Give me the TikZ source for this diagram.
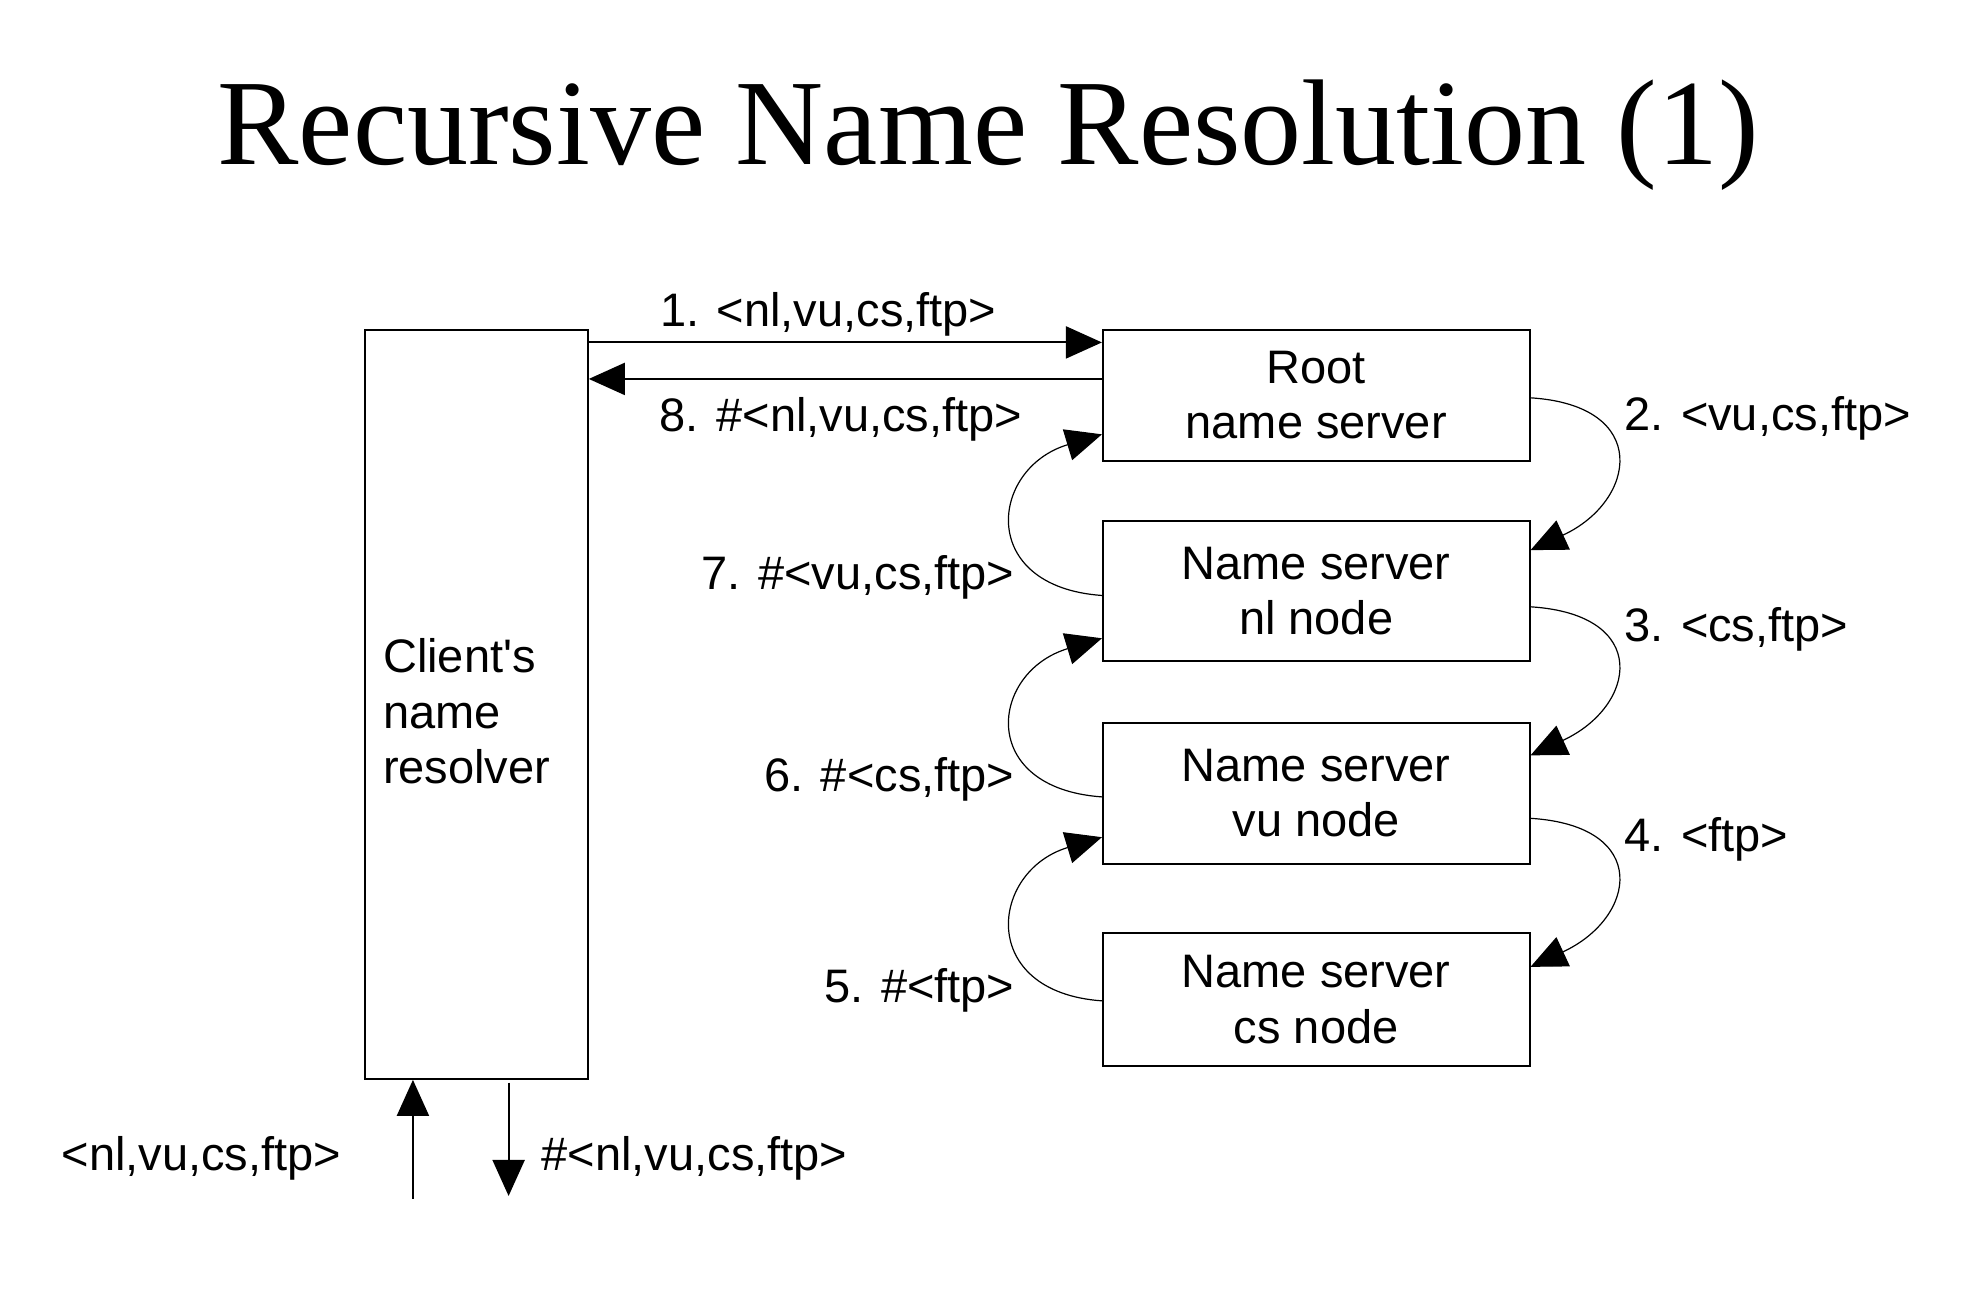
\documentclass[tikz,border=0pt]{standalone}
\usepackage{fontspec}
\setmainfont{Liberation Sans}
\newfontfamily\titlefont{Liberation Serif}
\usetikzlibrary{arrows.meta}
\begin{document}
\begin{tikzpicture}[x=0.6295pt,y=-0.6295pt,
  lbl/.style={inner sep=0pt, font=\fontsize{23.5}{27.7}\selectfont},
  box/.style={draw, line width=0.9pt, inner sep=0pt, align=center, font=\fontsize{23.5}{27.7}\selectfont},
  arr/.style={line width=1pt, -{Triangle[length=18pt,width=16pt]}},
  carr/.style={line width=0.6pt, -{Triangle[length=18pt,width=16pt]}}]
\useasboundingbox[fill=white] (0,0) rectangle (1568,1027);

\node[anchor=base, inner sep=0pt, font=\titlefont\fontsize{61}{70}\selectfont] (title) at (785,131) {Recursive Name Resolution (1)};

% boxes
\node[box, minimum width=111.4pt, minimum height=374.6pt] (client) at (378.5,559.5) {};
\node[lbl, anchor=west, align=left] (clienttext) at (304,565) {Client\textquotesingle s\\name\\resolver};
\node[box, minimum width=213.4pt, minimum height=65.5pt] (root) at (1045.5,314) {Root\\name server};
\node[box, minimum width=213.4pt, minimum height=69.9pt] (nl) at (1045.5,469.5) {Name server\\nl node};
\node[box, minimum width=213.4pt, minimum height=70.5pt] (vu) at (1045.5,630) {Name server\\vu node};
\node[box, minimum width=213.4pt, minimum height=66.7pt] (cs) at (1045.5,794) {Name server\\cs node};

% top arrows
\draw[arr] (client.east |- 0,272) -- (root.west |- 0,272);
\draw[arr] (root.west |- 0,301) -- (client.east |- 0,301);
\node[lbl] (l1) at (658,250) {1. <nl,vu,cs,ftp>};
\node[lbl] (l8) at (668,333) {8. \#<nl,vu,cs,ftp>};

% right curves (requests)
\draw[carr] (root.east |- 0,316) .. controls (1312,322) and (1300,398) .. (nl.east |- 0,437);
\draw[carr] (nl.east |- 0,482) .. controls (1312,488) and (1300,561) .. (vu.east |- 0,600);
\draw[carr] (vu.east |- 0,650) .. controls (1312,656) and (1300,729) .. (cs.east |- 0,768);
\node[lbl, anchor=west] (l2) at (1290,332) {2. <vu,cs,ftp>};
\node[lbl, anchor=west] (l3) at (1290,500) {3. <cs,ftp>};
\node[lbl, anchor=west] (l4) at (1290,667) {4. <ftp>};

% left curves (replies)
\draw[carr] (nl.west |- 0,473) .. controls (776,466) and (786,372) .. (root.west |- 0,345);
\draw[carr] (vu.west |- 0,633) .. controls (776,626) and (786,534) .. (nl.west |- 0,507);
\draw[carr] (cs.west |- 0,795) .. controls (776,788) and (786,692) .. (vu.west |- 0,665);
\node[lbl, anchor=east] (l7) at (806,459) {7. \#<vu,cs,ftp>};
\node[lbl, anchor=east] (l6) at (806,619) {6. \#<cs,ftp>};
\node[lbl, anchor=east] (l5) at (806,787) {5. \#<ftp>};

% bottom arrows
\coordinate (inA) at (328,952);
\coordinate (outB) at (404,950);
\draw[arr] (inA) -- (inA |- client.south);
\draw[arr] (outB |- 0,860) -- (outB);
\node[lbl] (lin) at (160,920) {<nl,vu,cs,ftp>};
\node[lbl, anchor=west] (lout) at (430,920) {\#<nl,vu,cs,ftp>};
\end{tikzpicture}
\end{document}
